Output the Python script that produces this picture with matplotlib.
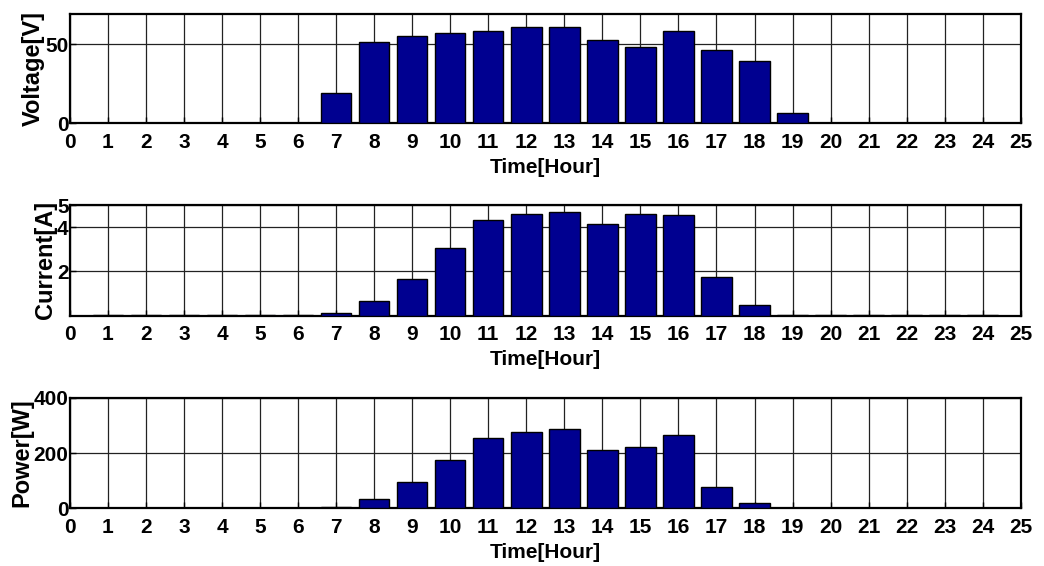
import matplotlib.pyplot as plt

hours = list(range(1, 25))

voltage = [0.4, 0.4, 0.4, 0.4, 0.4, 0.4, 18.9, 51.4, 55.2, 57.1, 58.2, 60.7,
           60.7, 52.7, 48.1, 58.4, 46.2, 39.3, 6.3, 0.4, 0.4, 0.4, 0.4, 0.4]
current = [0.05, 0.05, 0.05, 0.05, 0.05, 0.05, 0.14, 0.66, 1.67, 3.05, 4.33, 4.58,
           4.67, 4.13, 4.58, 4.54, 1.73, 0.47, 0.05, 0.05, 0.05, 0.05, 0.05, 0.05]
power = [0.2, 0.2, 0.2, 0.2, 0.2, 0.2, 3.6, 32.5, 94, 175, 254, 277,
         287, 212, 220, 266, 78, 20, 2.5, 0.2, 0.2, 0.2, 0.2, 0.2]

xticks = list(range(0, 26))

plt.rcParams["font.family"] = ["Liberation Sans", "DejaVu Sans"]
plt.rcParams["font.weight"] = "bold"

fig = plt.figure(figsize=(10.44, 5.66), dpi=100)

panels = [
    (voltage, "Voltage[V]", (0, 69), [0, 50], [0.067, 0.7822, 0.9107, 0.1931]),
    (current, "Current[A]", (0, 5), [2, 4, 5], [0.067, 0.4422, 0.9107, 0.1956]),
    (power, "Power[W]", (0, 400), [0, 200, 400], [0.067, 0.1019, 0.9107, 0.1954]),
]

for values, ylabel, ylim, yticks, pos in panels:
    ax = fig.add_axes(pos)
    ax.bar(hours, values, width=0.8, color="#000090", edgecolor="black",
           linewidth=1.0, zorder=3)
    ax.set_xlim(0, 25)
    ax.set_ylim(*ylim)
    ax.set_xticks(xticks)
    ax.set_yticks(yticks)
    ax.grid(True, color="#222222", linewidth=0.9, zorder=0)
    ax.tick_params(direction="in", length=4, width=1, labelsize=15)
    ax.tick_params(axis="x", pad=7)
    ax.tick_params(axis="y", pad=1)
    for lab in ax.get_xticklabels() + ax.get_yticklabels():
        lab.set_fontweight("bold")
    for s in ax.spines.values():
        s.set_linewidth(1.6)
    ax.set_ylabel(ylabel, fontsize=17, fontweight="bold", labelpad=0)
    ax.set_xlabel("Time[Hour]", fontsize=15, fontweight="bold", labelpad=4)

plt.savefig("out.png", dpi=100)
